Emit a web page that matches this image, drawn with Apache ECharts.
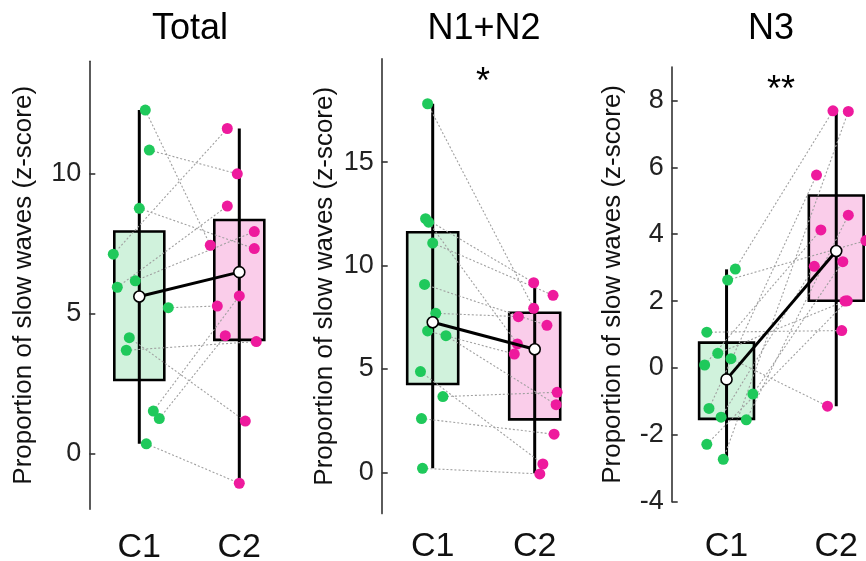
<!DOCTYPE html>
<html>
<head>
<meta charset="utf-8">
<script src="https://cdn.jsdelivr.net/npm/echarts@6/dist/echarts.min.js"></script>
<style>
  html, body { margin: 0; padding: 0; background: #fff; }
  #chart { width: 866px; height: 561px; }
</style>
</head>
<body>
<div id="chart"></div>
<script>
// ---- data ----
const panelTitles = ['Total', 'N1+N2', 'N3'];
const conditions = ['C1', 'C2'];
const yName = 'Proportion of slow waves (z-score)';
const significance = ['', '*', '**'];

// y-axis extents and tick values
const totalRange = [-2, 14];
const n12Range = [-2, 20];
const n3Range = [-4, 9];
const totalTicks = [0, 5, 10];
const n12Ticks = [0, 5, 10, 15];
const n3Ticks = [-4, -2, 0, 2, 4, 6, 8];

// per-subject values (same index = same subject in C1 and C2)
const totalC1 = [12.26, 10.83, 8.75, 7.11, 5.93, 6.16, 5.2, 4.13, 3.68, 1.51, 1.24, 0.34];
const totalC2 = [7.43, 9.98, 7.31, 11.6, 8.83, 7.92, 5.26, 1.15, 3.99, 5.62, 4.2, -1.07];
const n12C1 = [17.83, 12.27, 12.1, 11.09, 9.09, 7.69, 6.84, 6.61, 4.87, 3.66, 2.6, 0.19];
const n12C2 = [7.93, 9.17, 6.21, 8.56, 7.11, 7.53, 5.72, 3.27, 0.4, 3.87, 1.84, -0.08];
const n3C1 = [2.96, 2.63, 1.07, 0.44, 0.28, 0.09, -0.78, -1.21, -1.47, -1.55, -2.28, -2.73];
const n3C2 = [7.69, 3.81, 1.12, 2.0, -1.14, 4.13, 3.18, 5.77, 3.04, 4.57, 2.01, 7.67];

// horizontal jitter of each subject's dot, in category units
const totalJitC1 = [0.06, 0.10, 0.00, -0.26, -0.22, -0.04, 0.29, -0.10, -0.13, 0.14, 0.20, 0.07];
const totalJitC2 = [-0.29, -0.02, 0.15, -0.12, -0.12, 0.15, -0.22, 0.06, 0.17, 0.00, -0.14, 0.00];
const n12JitC1 = [-0.05, -0.07, -0.04, 0.00, -0.08, 0.03, -0.05, 0.13, -0.12, 0.10, -0.11, -0.10];
const n12JitC2 = [-0.01, -0.01, -0.17, 0.18, 0.12, -0.16, -0.20, 0.21, 0.08, 0.22, 0.19, 0.05];
const n3JitC1 = [0.08, 0.01, -0.18, -0.08, 0.04, -0.20, 0.24, -0.16, -0.05, 0.18, -0.18, -0.03];
const n3JitC2 = [-0.03, 0.27, 0.05, 0.08, -0.08, -0.14, 0.06, -0.18, -0.20, 0.11, 0.10, 0.11];

// box summaries: [min, q1, median, q3, max]
const totalBoxC1 = [0.34, 2.62, 5.6, 7.92, 12.26];
const totalBoxC2 = [-1.07, 4.05, 6.47, 8.33, 11.6];
const n12BoxC1 = [0.19, 4.27, 7.26, 11.61, 17.83];
const n12BoxC2 = [-0.05, 2.56, 5.95, 7.72, 9.17];
const n3BoxC1 = [-2.72, -1.52, -0.34, 0.76, 2.95];
const n3BoxC2 = [-1.14, 2.01, 3.5, 5.16, 7.67];

// ---- styling / layout ----
const FONT = '"Liberation Sans", Arial, Helvetica, sans-serif';
const GREEN = '#1fc95b';
const MAGENTA = '#ee1a9d';
const BOX_FILLS = ['#d0f2dc', '#facdea'];
const BOX_HALF = 0.25;

const panels = [
  { c1: totalC1, c2: totalC2, j1: totalJitC1, j2: totalJitC2, b1: totalBoxC1, b2: totalBoxC2,
    range: totalRange, ticks: totalTicks,
    grid: { left: 89.3, top: 61.3, width: 200, height: 448 }, nameGap: 52, xMargin: 21,
    titlePos: [190, 29], starPos: [0, 0] },
  { c1: n12C1, c2: n12C2, j1: n12JitC1, j2: n12JitC2, b1: n12BoxC1, b2: n12BoxC2,
    range: n12Range, ticks: n12Ticks,
    grid: { left: 381.7, top: 58.9, width: 204, height: 454.7 }, nameGap: 44, xMargin: 16,
    titlePos: [484, 29], starPos: [483, 83] },
  { c1: n3C1, c2: n3C2, j1: n3JitC1, j2: n3JitC2, b1: n3BoxC1, b2: n3BoxC2,
    range: n3Range, ticks: n3Ticks,
    grid: { left: 671.7, top: 67, width: 219.4, height: 434.8 }, nameGap: 46, xMargin: 28,
    titlePos: [771, 29], starPos: [781, 91] }
];

function renderBox(params, api) {
  const x = api.value(0);
  const lo = api.value(1), q1 = api.value(2), q3 = api.value(4), hi = api.value(5);
  const a = api.coord([x - BOX_HALF, q3]);
  const b = api.coord([x + BOX_HALF, q1]);
  const t = api.coord([x, hi]);
  const u = api.coord([x, lo]);
  return {
    type: 'group',
    children: [
      { type: 'rect', shape: { x: a[0], y: a[1], width: b[0] - a[0], height: b[1] - a[1] },
        style: { fill: BOX_FILLS[params.dataIndex], stroke: '#000', lineWidth: 2.6 } },
      { type: 'line', shape: { x1: t[0], y1: t[1], x2: u[0], y2: u[1] },
        style: { stroke: '#000', lineWidth: 3 } }
    ]
  };
}

const grid = [], xAxis = [], yAxis = [], series = [], graphic = [];

panels.forEach((p, i) => {
  grid.push(Object.assign({ outerBoundsMode: 'none', containLabel: false }, p.grid));

  xAxis.push({
    type: 'value', gridIndex: i, min: 0.5, max: 2.5, interval: 0.5,
    axisLine: { show: false }, axisTick: { show: false }, splitLine: { show: false },
    axisLabel: {
      margin: p.xMargin, fontSize: 34, fontFamily: FONT, color: '#111',
      formatter: v => (Math.abs(v - Math.round(v)) < 1e-6 && v >= 1 && v <= 2) ? conditions[Math.round(v) - 1] : ''
    }
  });

  yAxis.push({
    type: 'value', gridIndex: i, min: p.range[0], max: p.range[1],
    name: yName, nameLocation: 'middle', nameRotate: 90, nameGap: p.nameGap,
    nameTextStyle: { fontSize: 26, fontFamily: FONT, color: '#111' },
    axisLine: { show: true, lineStyle: { color: '#333', width: 1.6 } },
    axisTick: { show: true, inside: true, length: 6, customValues: p.ticks,
                lineStyle: { color: '#333', width: 1.6 } },
    axisLabel: { customValues: p.ticks, fontSize: 27, fontFamily: FONT, color: '#222', margin: 8 },
    splitLine: { show: false }
  });

  // boxes + whiskers
  series.push({
    type: 'custom', xAxisIndex: i, yAxisIndex: i, z: 2, silent: true,
    renderItem: renderBox,
    encode: { x: 0, y: [1, 5] },
    data: [[1].concat(p.b1), [2].concat(p.b2)]
  });

  // paired-subject connectors
  series.push({
    type: 'lines', coordinateSystem: 'cartesian2d', xAxisIndex: i, yAxisIndex: i, z: 3,
    silent: true,
    lineStyle: { color: '#a0a0a0', width: 1.1, type: [2, 2], opacity: 1 },
    data: p.c1.map((v, k) => ({ coords: [[1 + p.j1[k], v], [2 + p.j2[k], p.c2[k]]] }))
  });

  // subject dots
  series.push({
    type: 'scatter', xAxisIndex: i, yAxisIndex: i, z: 4, symbolSize: 11,
    itemStyle: { color: GREEN, opacity: 1 },
    data: p.c1.map((v, k) => [1 + p.j1[k], v])
  });
  series.push({
    type: 'scatter', xAxisIndex: i, yAxisIndex: i, z: 4, symbolSize: 11,
    itemStyle: { color: MAGENTA, opacity: 1 },
    data: p.c2.map((v, k) => [2 + p.j2[k], v])
  });

  // medians joined
  series.push({
    type: 'line', xAxisIndex: i, yAxisIndex: i, z: 5,
    symbol: 'circle', symbolSize: 11, showAllSymbol: true,
    lineStyle: { color: '#000', width: 3 },
    itemStyle: { color: '#fff', borderColor: '#000', borderWidth: 1.6 },
    data: [[1, p.b1[2]], [2, p.b2[2]]]
  });

  graphic.push({
    type: 'text', x: p.titlePos[0], y: p.titlePos[1],
    style: { text: panelTitles[i], font: '36px ' + FONT, fill: '#000',
             align: 'center', verticalAlign: 'middle', textAlign: 'center', textVerticalAlign: 'middle' }
  });
  if (significance[i]) {
    graphic.push({
      type: 'text', x: p.starPos[0], y: p.starPos[1],
      style: { text: significance[i], font: '36px ' + FONT, fill: '#000',
               align: 'center', verticalAlign: 'middle', textAlign: 'center', textVerticalAlign: 'middle' }
    });
  }
});

const chart = echarts.init(document.getElementById('chart'), null, { renderer: 'canvas' });
chart.setOption({
  animation: false,
  backgroundColor: '#fff',
  grid, xAxis, yAxis, series, graphic
});
</script>
</body>
</html>
